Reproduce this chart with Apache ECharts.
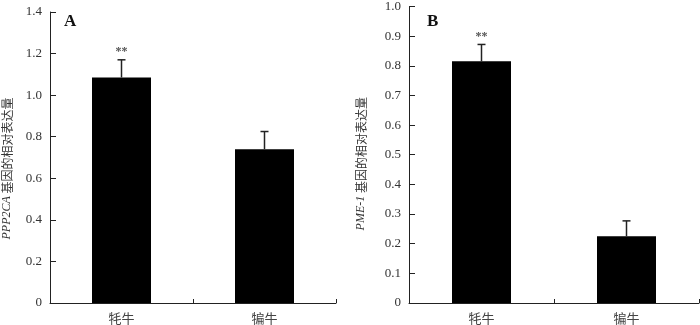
<!DOCTYPE html>
<html>
<head>
<meta charset="utf-8">
<script src="https://cdn.jsdelivr.net/npm/echarts@6/dist/echarts.min.js"></script>
<style>
  html, body { margin: 0; padding: 0; background: #fff; }
  #chart { width: 700px; height: 325px; }
</style>
</head>
<body>
<div id="chart"></div>
<script>
// 数据
const categories = ['牦牛', '犏牛']
const ppp2caValues = [1.085, 0.74]
const ppp2caErrors = [0.085, 0.085]
const pme1Values = [0.815, 0.225]
const pme1Errors = [0.057, 0.052]
const sigMarks = ['**', '']

const serif = '"Liberation Serif", "Times New Roman", "Noto Sans CJK SC", serif'
const axisColor = '#222'

// 误差棒 + 显著性标记
const errorRender = (values, errors) => (params, api) => {
  const i = params.dataIndex
  const base = api.coord([i, values[i]])
  const top = api.coord([i, values[i] + errors[i]])
  const capHalf = 4
  const style = { stroke: '#222', lineWidth: 1.5 }
  return {
    type: 'group',
    children: [
      { type: 'line', shape: { x1: base[0], y1: base[1], x2: top[0], y2: top[1] }, style },
      { type: 'line', shape: { x1: top[0] - capHalf, y1: top[1], x2: top[0] + capHalf, y2: top[1] }, style },
      {
        type: 'text',
        style: {
          text: sigMarks[i], x: top[0], y: top[1] - 2,
          align: 'center', verticalAlign: 'bottom',
          fontSize: 12, fontWeight: 'bold', fontFamily: serif, fill: '#555'
        }
      }
    ]
  }
}

const makeYAxis = (gridIndex, max, interval, name, gap, shift) => ({
  type: 'value',
  gridIndex,
  min: 0,
  max,
  interval,
  name,
  nameLocation: 'middle',
  nameRotate: 90,
  nameGap: gap,
  nameTextStyle: {
    fontSize: 12,
    color: '#333',
    padding: [0, shift, 0, 0],
    fontFamily: '"Noto Sans CJK SC", sans-serif',
    rich: {
      i: { fontStyle: 'italic', fontFamily: serif, fontSize: 12, color: '#333' }
    }
  },
  axisLine: { show: true, lineStyle: { color: axisColor, width: 1 } },
  axisTick: { show: true, inside: true, length: 6, lineStyle: { color: axisColor } },
  axisLabel: {
    fontSize: 13, fontFamily: serif, color: '#333', margin: 8,
    formatter: v => (v === 0 ? '0' : v.toFixed(1))
  },
  splitLine: { show: false }
})

const makeXAxis = (gridIndex) => ({
  type: 'category',
  gridIndex,
  data: categories,
  axisLine: { lineStyle: { color: axisColor, width: 1 } },
  axisTick: { show: true, inside: true, length: 4, lineStyle: { color: axisColor } },
  axisLabel: { fontSize: 13, color: '#444', margin: 9, fontFamily: '"Noto Sans CJK SC", sans-serif' }
})

const chart = echarts.init(document.getElementById('chart'))

const option = {
  animation: false,
  title: [
    { text: 'A', left: 59, top: 8, textStyle: { fontSize: 17, fontWeight: 'bold', fontFamily: serif, color: '#111' } },
    { text: 'B', left: 422, top: 8, textStyle: { fontSize: 17, fontWeight: 'bold', fontFamily: serif, color: '#111' } }
  ],
  grid: [
    { left: 45, right: 364, top: 12, bottom: 21 },
    { left: 409, right: 1, top: 2.5, bottom: 21.5 }
  ],
  xAxis: [makeXAxis(0), makeXAxis(1)],
  yAxis: [
    makeYAxis(0, 1.4, 0.2, '{i|PPP2CA} 基因的相对表达量', 37, 22),
    makeYAxis(1, 1.0, 0.1, '{i|PME-1} 基因的相对表达量', 42, 18)
  ],
  series: [
    { type: 'bar', xAxisIndex: 0, yAxisIndex: 0, data: ppp2caValues, barWidth: 59, itemStyle: { color: '#000' } },
    { type: 'custom', xAxisIndex: 0, yAxisIndex: 0, data: ppp2caValues, renderItem: errorRender(ppp2caValues, ppp2caErrors), z: 3 },
    { type: 'bar', xAxisIndex: 1, yAxisIndex: 1, data: pme1Values, barWidth: 59, itemStyle: { color: '#000' } },
    { type: 'custom', xAxisIndex: 1, yAxisIndex: 1, data: pme1Values, renderItem: errorRender(pme1Values, pme1Errors), z: 3 }
  ]
}

chart.setOption(option)
</script>
</body>
</html>
